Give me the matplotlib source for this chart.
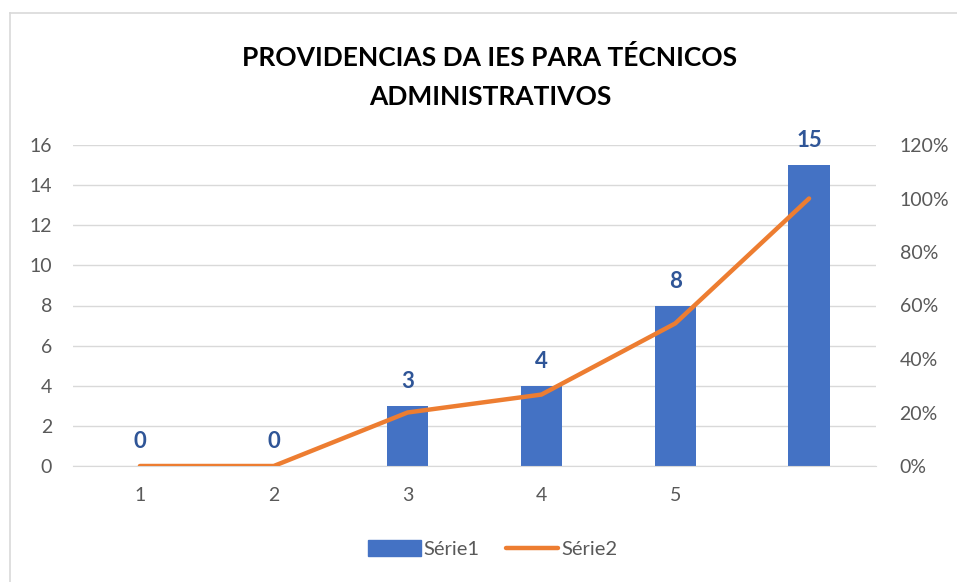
import matplotlib.pyplot as plt
from matplotlib.lines import Line2D
from matplotlib.ticker import FuncFormatter

categorias = [1, 2, 3, 4, 5, 6]
rotulos_x = ["1", "2", "3", "4", "5", ""]
serie1 = [0, 0, 3, 4, 8, 15]
serie2 = [0, 0, 20, 26.7, 53.3, 100]  # em %

plt.rcParams['font.family'] = ['Lato', 'DejaVu Sans']

fig = plt.figure(figsize=(9.57, 5.82), dpi=100)
ax = fig.add_axes([73 / 957, 1 - 466 / 582, (876 - 73) / 957, (466 - 145) / 582])
ax2 = ax.twinx()

azul = "#4472C4"
laranja = "#ED7D31"
cinza = "#595959"

ax.bar(categorias, serie1, width=0.31, color=azul, zorder=2)
for x, v in zip(categorias, serie1):
    ax.annotate(str(v), (x, v), xytext=(0, 10), textcoords="offset points",
                ha="center", va="bottom", fontsize=16, fontweight="bold",
                color="#2F5597")

ax2.plot(categorias, serie2, color=laranja, lw=3.2, solid_capstyle="round", zorder=3)

ax.set_xlim(0.5, 6.5)
ax.set_ylim(0, 16)
ax.set_yticks(range(0, 17, 2))
ax2.set_ylim(0, 120)
ax2.set_yticks(range(0, 121, 20))
ax2.yaxis.set_major_formatter(FuncFormatter(lambda v, p: f"{v:.0f}%"))
ax.set_xticks(categorias)
ax.set_xticklabels(rotulos_x)

ax.grid(axis="y", color="#D9D9D9", lw=1, zorder=0)
ax.set_axisbelow(True)
for a in (ax, ax2):
    for s in a.spines.values():
        s.set_visible(False)
    a.tick_params(length=0, labelsize=14, labelcolor=cinza)
ax.spines["bottom"].set_visible(True)
ax.spines["bottom"].set_color("#D9D9D9")
ax.tick_params(axis="y", pad=15)
ax.tick_params(axis="x", pad=15)
ax2.tick_params(axis="y", pad=17)

fig.text(490 / 957, 1 - 77 / 582, "PROVIDENCIAS DA IES PARA TÉCNICOS\nADMINISTRATIVOS",
         ha="center", va="center", fontsize=19, fontweight="bold",
         color="black", linespacing=1.75)

handles = [plt.Rectangle((0, 0), 1, 1, color=azul),
           Line2D([0], [0], color=laranja, lw=3.2, solid_capstyle="round")]
fig.legend(handles, ["Série1", "Série2"], loc="center", ncol=2,
           bbox_to_anchor=(493 / 957, 1 - 549 / 582), frameon=False,
           fontsize=14.5, labelcolor=cinza, handlelength=2.6, handleheight=0.8,
           columnspacing=1.3, handletextpad=0.15)

# moldura do gráfico
fig.add_artist(Line2D([10 / 957, 10 / 957], [0, 1 - 13 / 582], color="#D9D9D9", lw=1.2))
fig.add_artist(Line2D([10 / 957, 1], [1 - 13 / 582, 1 - 13 / 582], color="#D9D9D9", lw=1.2))

fig.savefig("out.png", dpi=100)
